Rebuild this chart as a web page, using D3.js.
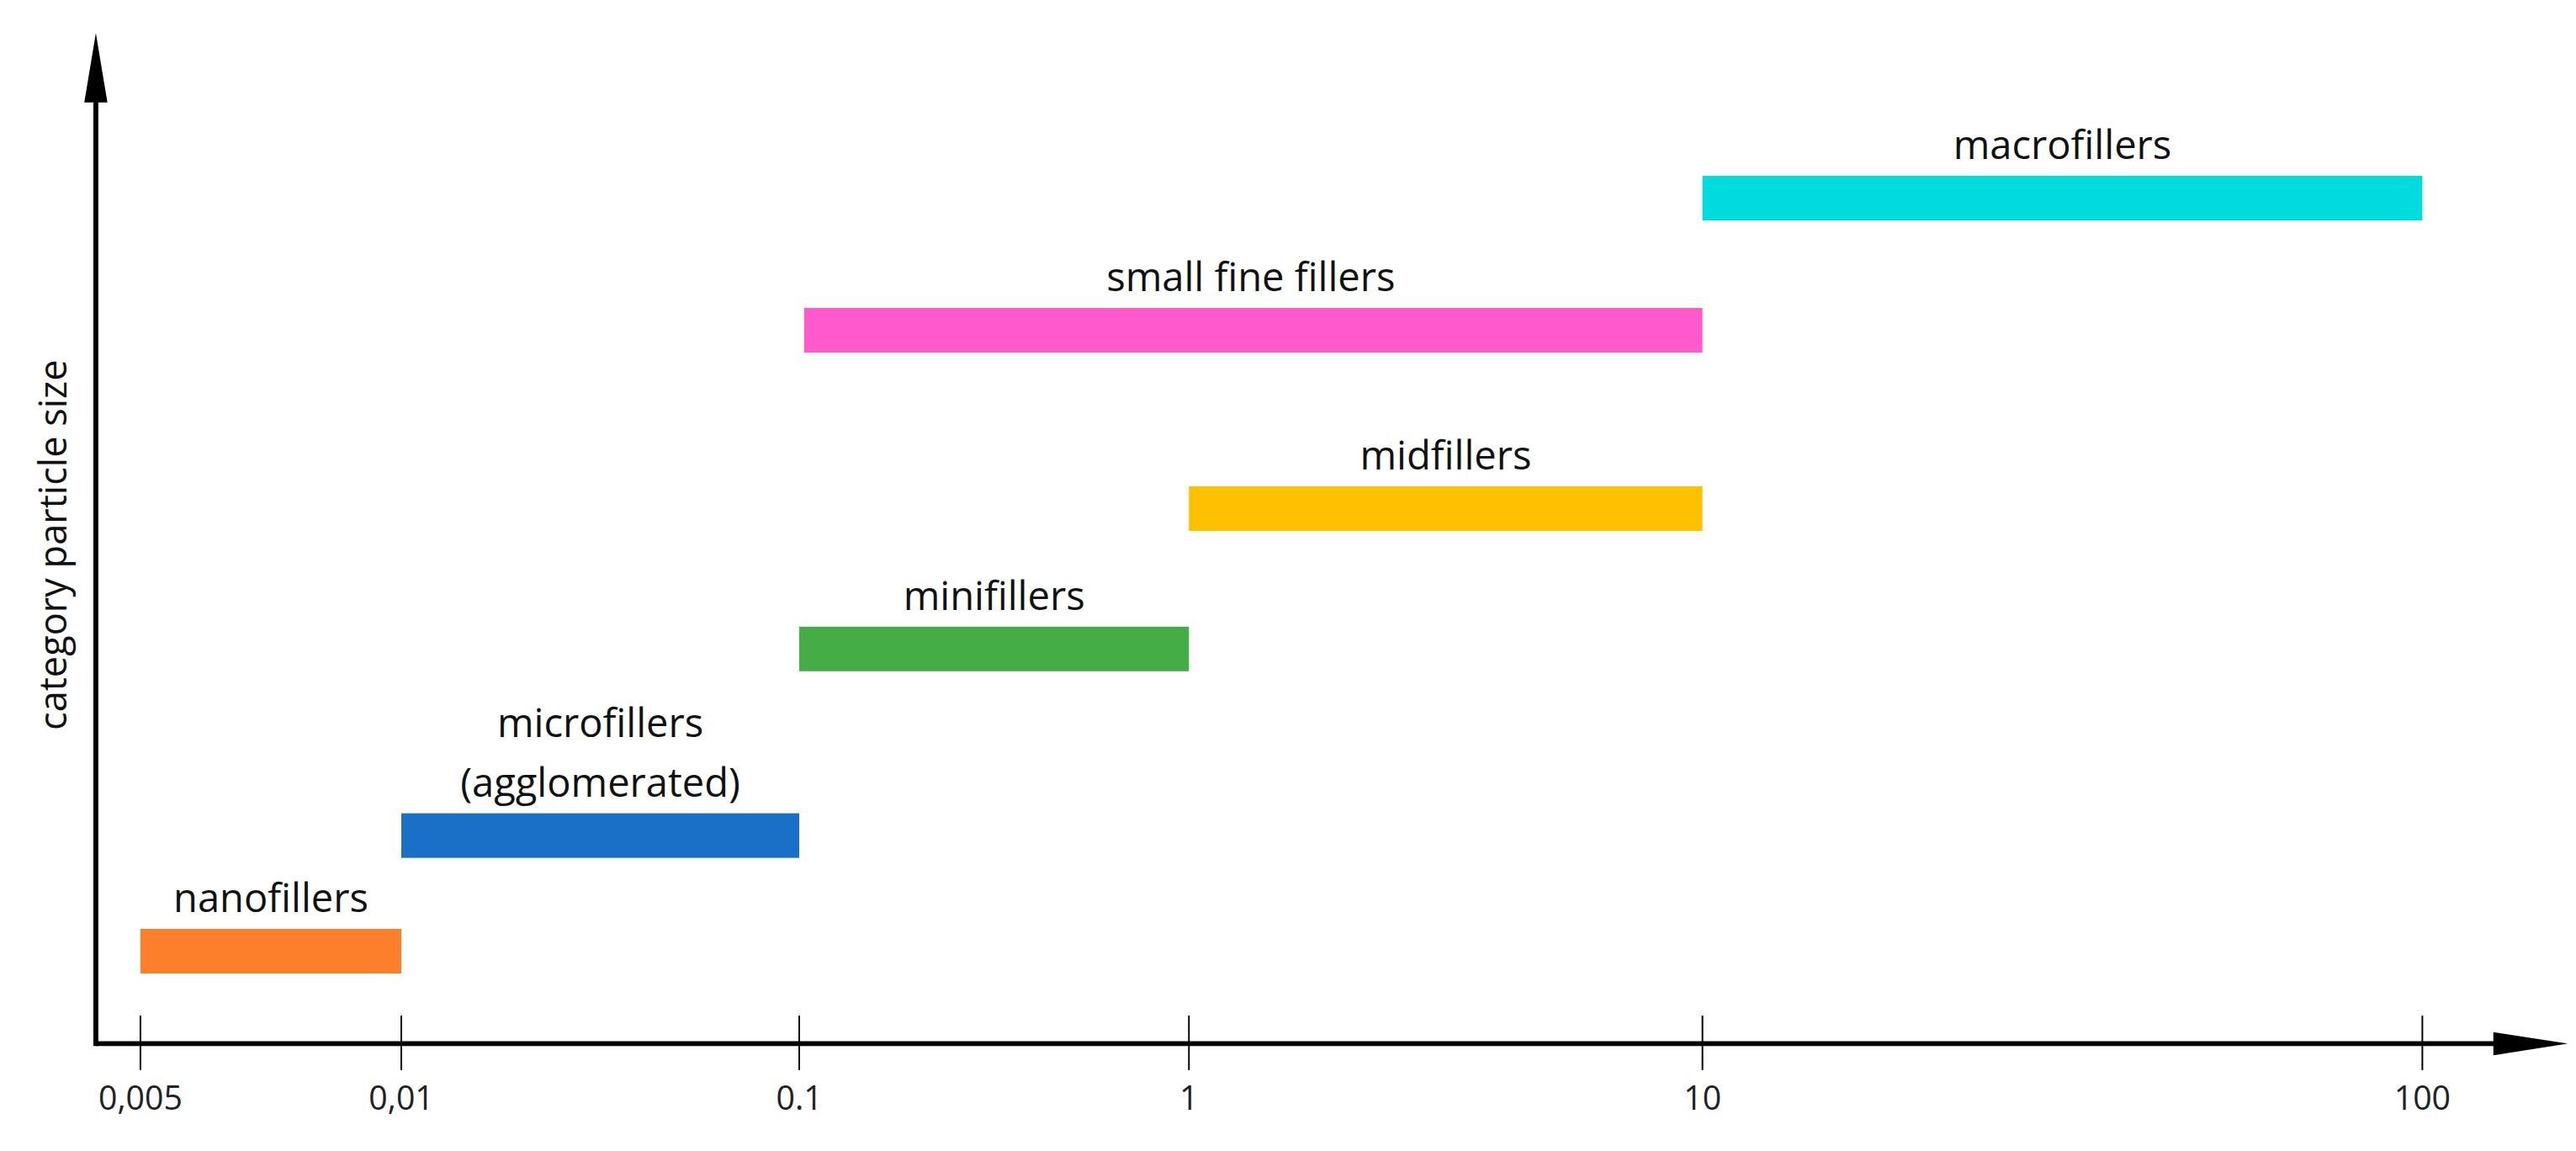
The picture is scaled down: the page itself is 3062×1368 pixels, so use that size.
<!DOCTYPE html>
<html><head><meta charset="utf-8">
<script src="https://cdn.jsdelivr.net/npm/d3@7"></script>
<style>body{margin:0;background:#fff}svg{display:block}</style>
</head><body>
<div class="chart"></div>
<script>
// filler categories, size ranges (µm) and vertical level
const categories = ['nanofillers', 'microfillers\n(agglomerated)', 'minifillers', 'midfillers', 'small fine fillers', 'macrofillers'];
const sizeFrom = [0.005, 0.01, 0.1, 1, 0.1, 10];
const sizeTo = [0.01, 0.1, 1, 10, 10, 100];
const levels = [0.5, 1.2, 2.33, 3.18, 4.26, 5.06];
const colors = ['#fd7f2c', '#1a6fc7', '#45ad45', '#ffc000', '#ff5acd', '#00dcdc'];
const tickValues = [0.005, 0.01, 0.1, 1, 10, 100];
const tickLabels = ['0,005', '0,01', '0.1', '1', '10', '100'];

const W = 1560, H = 697;
const svg = d3.select('.chart').append('svg')
    .attr('width', 3062).attr('height', 1368)
    .attr('viewBox', `0 0 ${W} ${H}`)
    .style('font-family', 'Open Sans, sans-serif');

// the drawn axis is not evenly logarithmic, so map each tick to its spot
const x = d3.scaleLinear()
    .domain(tickValues.map(v => Math.log10(v)))
    .range([85, 243, 484, 720, 1031, 1467]);
const xs = v => x(Math.log10(v));
const y = d3.scaleLinear().domain([0, 6]).range([626, 26]);
const ax = 58, ay = 632, barH = 27;

// axes
svg.append('line').attr('x1', ax).attr('y1', ay).attr('x2', 1520).attr('y2', ay)
    .attr('stroke', '#000').attr('stroke-width', 3);
svg.append('line').attr('x1', ax).attr('y1', ay + 1.5).attr('x2', ax).attr('y2', 50)
    .attr('stroke', '#000').attr('stroke-width', 3);
svg.append('path').attr('d', `M1555,${ay} L1510,${ay - 7} L1510,${ay + 7} Z`).attr('fill', '#000');
svg.append('path').attr('d', `M${ax},20 L${ax - 7},62 L${ax + 7},62 Z`).attr('fill', '#000');

const ticks = svg.selectAll('g.tick').data(tickValues).enter().append('g')
    .attr('transform', d => `translate(${xs(d)},0)`);
ticks.append('line').attr('y1', 615).attr('y2', 648).attr('stroke', '#000').attr('stroke-width', 1);
ticks.append('text').attr('y', 672).attr('text-anchor', 'middle')
    .attr('font-size', 20).attr('fill', '#222')
    .text((d, i) => tickLabels[i]);

svg.append('text')
    .attr('transform', 'translate(40,330) rotate(-90)')
    .attr('text-anchor', 'middle').attr('font-size', 23).attr('fill', '#111')
    .text('category particle size');

// bars
svg.selectAll('rect.bar').data(categories).enter().append('rect')
    .attr('x', (d, i) => xs(sizeFrom[i]) + (i === 4 ? 3 : 0))
    .attr('width', (d, i) => xs(sizeTo[i]) - xs(sizeFrom[i]) - (i === 4 ? 3 : 0))
    .attr('y', (d, i) => y(levels[i]) - barH / 2)
    .attr('height', barH)
    .attr('fill', (d, i) => colors[i]);

// labels
const lab = svg.selectAll('text.lab').data(categories).enter().append('text')
    .attr('text-anchor', 'middle').attr('font-size', 24).attr('fill', '#111')
    .attr('x', (d, i) => (xs(sizeFrom[i]) + xs(sizeTo[i])) / 2)
    .attr('y', (d, i) => y(levels[i]) - barH / 2 - 10 - (d.split('\n').length - 1) * 36);
lab.selectAll('tspan').data(d => d.split('\n')).enter().append('tspan')
    .attr('x', function() { return this.parentNode.getAttribute('x'); })
    .attr('dy', (d, i) => i ? 36 : 0)
    .text(d => d);
</script>
</body></html>
